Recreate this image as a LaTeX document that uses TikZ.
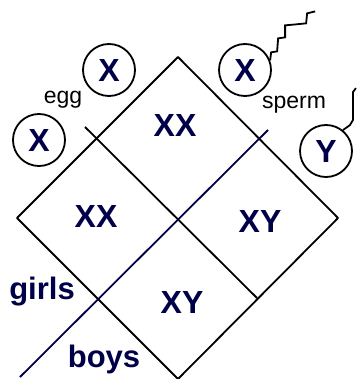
\documentclass[tikz,border=0pt]{standalone}
\usepackage{fontspec}
\setmainfont{Liberation Sans}
\definecolor{navy}{RGB}{0,0,72}

\tikzset{
  gamete/.style={circle, draw, line width=1.8pt, minimum size=52pt, inner sep=0pt,
                 font=\fontsize{32}{32}\selectfont\bfseries, text=navy},
  geno/.style={inner sep=0pt, font=\fontsize{32}{32}\selectfont\bfseries, text=navy},
  sexlabel/.style={inner sep=0pt, font=\fontsize{31}{31}\selectfont\bfseries, text=navy},
  celltag/.style={inner sep=0pt, font=\fontsize{23}{23}\selectfont},
  punnett/.style={line width=1.8pt, line join=round},
  tail/.style={line width=1.8pt, line join=miter}
}

\begin{document}
\begin{tikzpicture}[x=1pt, y=-1pt]
    \useasboundingbox (0,0) rectangle (358,379);

    % Punnett square, turned by 45 degrees
    \coordinate (top) at (178,57);
    \coordinate (left) at (17,218);
    \coordinate (right) at (338,218);
    \coordinate (bottom) at (178,379);
    \draw[punnett] (left) -- (top) -- (right) -- (bottom) -- cycle;
    \draw[punnett] (85,127) -- (257,298);
    \draw[punnett, navy] (268,130) -- (20,377);

    % Offspring
    \node[geno] (xxtop) at (175,125) {XX};
    \node[geno] (xxleft) at (96,216) {XX};
    \node[geno] (xyright) at (260,221) {XY};
    \node[geno] (xybottom) at (182,302) {XY};
    \node[sexlabel] (girls) at (42,292) {girls};
    \node[sexlabel] (boys) at (104,359) {boys};

    % Eggs
    \node[gamete] (eggtop) at (109,70) {X};
    \node[gamete] (eggleft) at (39,140) {X};
    \node[celltag] (egg) at (63,100) {egg};

    % Sperm, with their tails
    \node[gamete] (spermx) at (245,70) {X};
    \node[gamete] (spermy) at (326,151) {Y};
    \node[celltag] (sperm) at (294,105) {sperm};
    \draw[tail] (spermx.21) -- ++(1,-8) -- ++(6,-1) -- ++(1,-13) -- ++(7,-1)
        -- ++(0,-12) -- ++(11,-1) -- ++(10,-1) -- ++(1,-10) -- ++(8,-2);
    \draw[tail] (spermy.51) -- ++(7,-5) -- ++(3,-5) -- ++(0,-28) -- ++(3,-4);
\end{tikzpicture}
\end{document}
